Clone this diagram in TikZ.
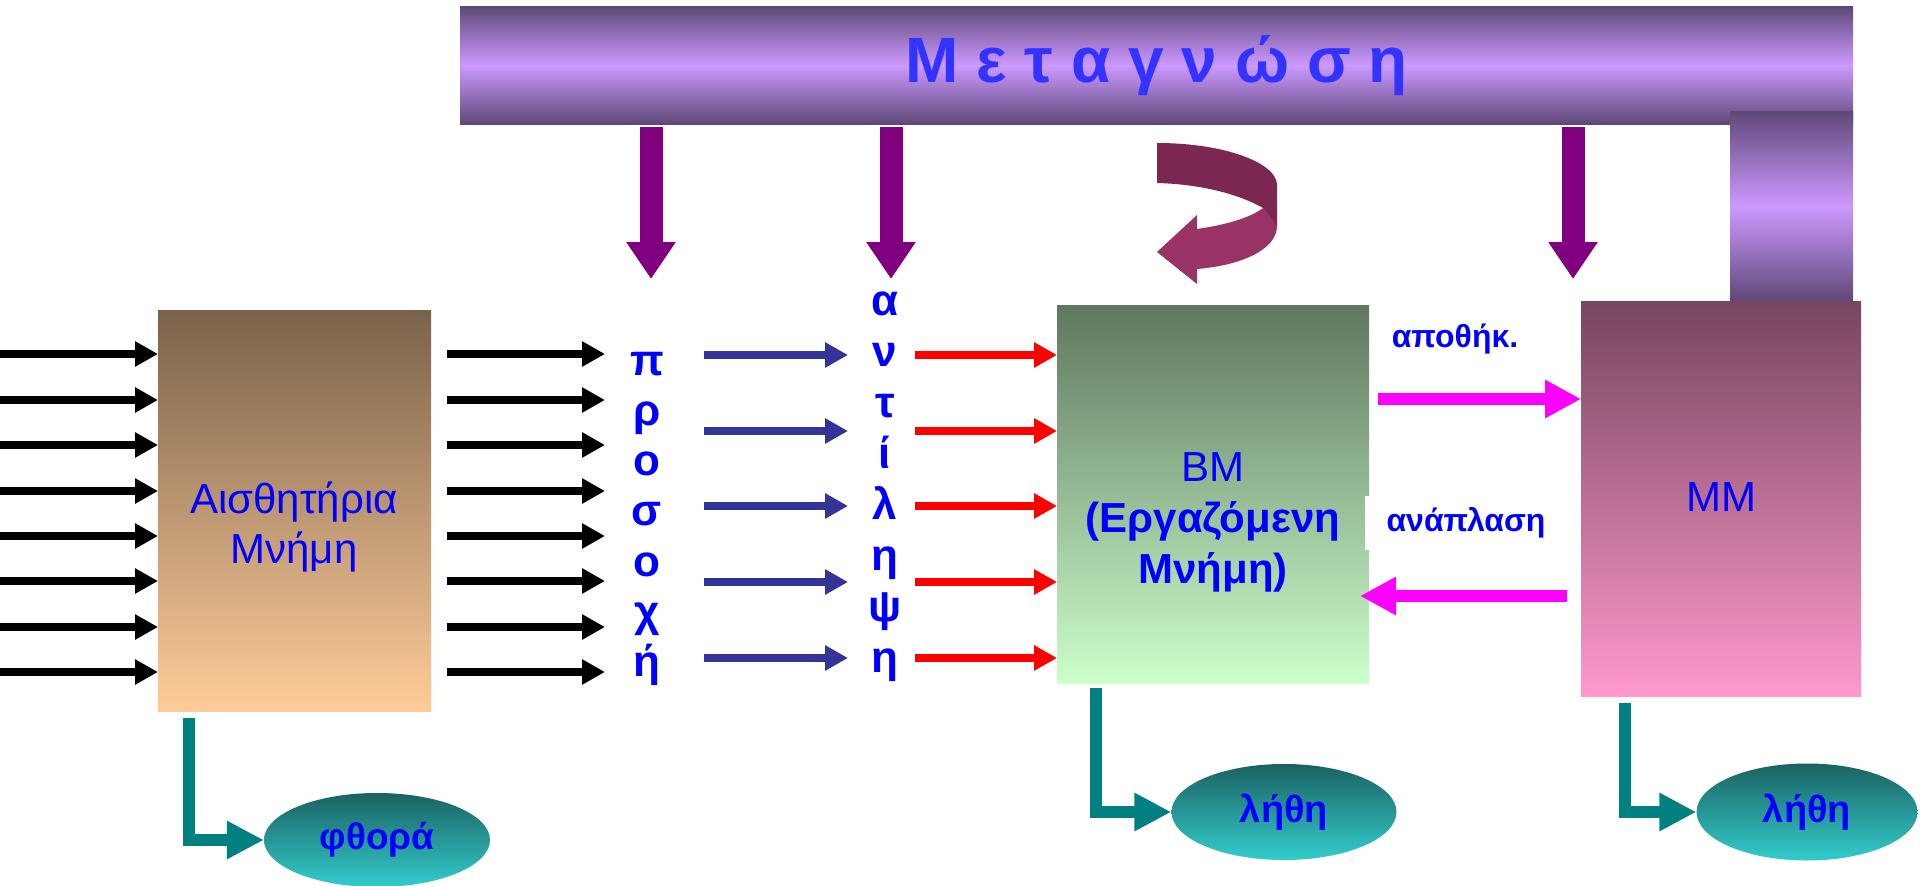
\documentclass[tikz,border=0pt]{standalone}
\usepackage{fontspec}
\setmainfont{Liberation Sans}
\usepackage{xcolor}
\usetikzlibrary{arrows.meta,shapes.geometric}

\definecolor{bardark}{HTML}{5E4877}
\definecolor{barlight}{HTML}{CC99FF}
\definecolor{senstop}{HTML}{7A624A}
\definecolor{sensbot}{HTML}{FFCC99}
\definecolor{wmtop}{HTML}{5F775F}
\definecolor{wmbot}{HTML}{CCFFCC}
\definecolor{ltmtop}{HTML}{77465F}
\definecolor{ltmbot}{HTML}{FF99CC}
\definecolor{elltop}{HTML}{1B6262}
\definecolor{ellbot}{HTML}{33CCCC}
\definecolor{purp}{HTML}{800080}
\definecolor{arrblue}{HTML}{333399}
\definecolor{tealc}{HTML}{008080}
\definecolor{pinkarr}{HTML}{FF00FF}
\definecolor{titleblue}{HTML}{3333FF}
\definecolor{loopdark}{HTML}{7B2752}
\definecolor{looplight}{HTML}{993366}

\newcommand\setsz[1]{\fontsize{#1}{#1}\selectfont}

\begin{document}
\begin{tikzpicture}[x=1pt,y=-1pt,
  blk/.style={line width=8pt,-{Triangle[length=23pt,width=24pt]}},
  bluarr/.style={blk,draw=arrblue},
  redarr/.style={blk,draw=red},
  downarr/.style={draw=purp,line width=23pt,-{Triangle[length=37pt,width=47pt]}},
  magarr/.style={draw=pinkarr,line width=12pt,-{Triangle[length=36pt,width=36pt]}},
  lossarr/.style={draw=tealc,line width=12pt,line join=miter,-{Triangle[length=37pt,width=36pt]}},
  mem/.style={anchor=north west,inner sep=0pt},
  fade/.style={ellipse,inner sep=0pt,top color=elltop,bottom color=ellbot,text=blue,font=\bfseries\setsz{38}},
  letter/.style={anchor=base,inner sep=0pt,text=blue,font=\bfseries\setsz{44}},
  note/.style={text=blue,font=\bfseries\setsz{32}}]
\useasboundingbox (0,0) rectangle (1920,886);
\fill[white] (0,0) rectangle (1920,886);

% metacognition bar
\node[mem,minimum width=1393pt,minimum height=118pt,top color=bardark,bottom color=bardark,middle color=barlight] (bar) at (460,6) {};
\node[mem,minimum width=123pt,minimum height=190pt,top color=bardark,bottom color=bardark,middle color=barlight] (barR) at (1730,111) {};
\node[inner sep=0pt,text=titleblue,font=\bfseries\setsz{64}] (title) at (bar.center) {Μ ε τ α γ ν ώ σ η};

% memory stores
\node[mem,minimum width=273pt,minimum height=401pt,top color=senstop,bottom color=sensbot] (sens) at (158,310) {};
\node[mem,minimum width=312pt,minimum height=378pt,top color=wmtop,bottom color=wmbot] (wm) at (1057,305) {};
\node[mem,minimum width=280pt,minimum height=395pt,top color=ltmtop,bottom color=ltmbot] (ltm) at (1581,301) {};
\node[text=blue,align=center,font=\fontsize{42}{50}\selectfont] (sensLbl) at (294,527) {Αισθητήρια\\Μνήμη};
\node[text=blue,align=center,font=\fontsize{42}{51}\selectfont] (wmLbl) at (1213,522) {ΒΜ\\\textbf{(Εργαζόμενη}\\\textbf{Μνήμη)}};
\node[text=blue,font=\setsz{42}] (ltmLbl) at (1721,497) {ΜΜ};

% inputs and filters
\foreach \y in {354,400,445,491,536,581,627,672}{
  \draw[blk] (0,\y) -- (sens.west |- 0,\y);
  \draw[blk] (447,\y) -- (605,\y);
}
\foreach \c [count=\i from 0] in {π,ρ,ο,σ,ο,χ,ή}
  \node[letter] (att\i) at (647,375+50.3*\i) {\c};
\foreach \c [count=\i from 0] in {α,ν,τ,ί,λ,η,ψ,η}
  \node[letter] (per\i) at (885,315+51.1*\i) {\c};
\foreach \y in {355,431,506,582,658}{
  \draw[bluarr] (704,\y) -- (848,\y);
  \draw[redarr] (915,\y) -- (wm.west |- 0,\y);
}

% control from the bar
\foreach \x in {651,891,1573}
  \draw[downarr] (\x,127) -- (\x,279);
\fill[loopdark] (1157,143) .. controls (1225,143) and (1277,163) .. (1277,185) -- (1277,228) -- (1263,208) .. controls (1235,192) and (1195,184) .. (1157,183) -- cycle;
\fill[looplight] (1197,229) .. controls (1225,225) and (1250,218) .. (1263,208) -- (1277,226) .. controls (1277,248) and (1245,265) .. (1197,269) -- (1197,284) -- (1157,252) -- (1197,215) -- cycle;

% storage and retrieval
\draw[magarr] (1378,399) -- (ltm.west |- 0,399);
\draw[magarr] (1567,596) -- (1360,596);
\node[note] (store) at (1455,339) {αποθήκ.};
\node[note,fill=white,inner xsep=22pt,inner ysep=12pt] (recall) at (1466,523) {ανάπλαση};

% losses
\node[fade,minimum width=226pt,minimum height=94pt,font=\bfseries\setsz{37}] (decay) at (377,840) {φθορά};
\node[fade,minimum width=225pt,minimum height=96pt] (lost1) at (1284,812) {λήθη};
\node[fade,minimum width=221pt,minimum height=97pt] (lost2) at (1807,812) {λήθη};
\draw[lossarr] (189,718) |- (decay.west);
\draw[lossarr] (1096,688) |- (lost1.west);
\draw[lossarr] (1625,703) |- (lost2.west);
\end{tikzpicture}
\end{document}
